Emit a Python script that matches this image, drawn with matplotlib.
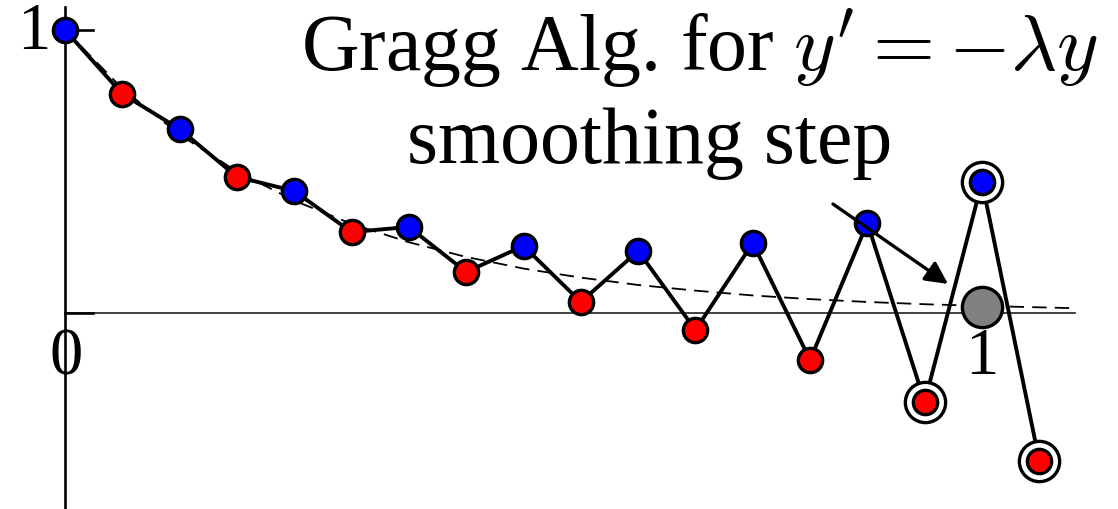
import matplotlib
matplotlib.use("Agg")
import matplotlib.pyplot as plt

plt.rcParams["font.family"] = ["Liberation Serif", "DejaVu Serif"]
plt.rcParams["mathtext.fontset"] = "cm"

# Gragg (explicit midpoint) approximations at x_k = k/16
step = 1.0 / 16
gragg_y = [1.000, 0.774, 0.650, 0.481, 0.431, 0.286, 0.304, 0.145, 0.237,
           0.039, 0.219, -0.060, 0.247, -0.166, 0.318, -0.314, 0.463, -0.523]
# the last three values enter the smoothing step
ringed = [15, 16, 17]
smoothed_x = 1.0
smoothed_y = 0.021

# exact solution sampled on the grid, plus the right end at x = 1.1
exact_x = [k / 16 for k in range(17)] + [1.1]
exact_y = [1.000, 0.793, 0.630, 0.500, 0.397, 0.315, 0.250, 0.198, 0.157,
           0.125, 0.099, 0.079, 0.062, 0.049, 0.039, 0.031, 0.025, 0.017]

title_line1 = r"Gragg Alg. for $y' = -\lambda y$"
title_line2 = "smoothing step"

xs = [k * step for k in range(len(gragg_y))]

fig = plt.figure(figsize=(11.18, 5.10), dpi=100)
ax = fig.add_axes([0, 0, 1, 1])
ax.set_xlim(-0.0709, 1.1483)
ax.set_ylim(-0.6926, 1.1095)
ax.axis("off")

# coordinate axes
ax.plot([0, 0], [-0.693, 1.081], color="black", lw=1.9, zorder=1)
ax.plot([0, 1.101], [0, 0], color="#222222", lw=1.2, zorder=1)
ax.plot([0, 0.03], [1, 1], color="black", lw=1.9, zorder=1)
ax.plot([0, 0.03], [0, 0], color="black", lw=1.9, zorder=1)

# exact solution
ax.plot(exact_x, exact_y, color="black", lw=1.3, dashes=(8, 4.5), zorder=2)

# polygon through the Gragg values
ax.plot(xs, gragg_y, color="black", lw=2.8, zorder=3)

# rings around the values used for smoothing
ax.plot([xs[k] for k in ringed], [gragg_y[k] for k in ringed], ls="none",
        marker="o", ms=29, mfc="white", mec="black", mew=2.4, zorder=4)

# even steps blue, odd steps red
ax.plot(xs[0::2], gragg_y[0::2], ls="none", marker="o", ms=17.5,
        mfc="#0000ff", mec="black", mew=2.4, zorder=5)
ax.plot(xs[1::2], gragg_y[1::2], ls="none", marker="o", ms=17.5,
        mfc="#ff0000", mec="black", mew=2.4, zorder=5)

# smoothed value
ax.plot([smoothed_x], [smoothed_y], ls="none", marker="o", ms=29,
        mfc="#808080", mec="black", mew=2.4, zorder=5)

# tick labels
ax.text(-0.034, 0.995, "1", fontsize=48, ha="center", va="center")
ax.text(0.001, -0.155, "0", fontsize=48, ha="center", va="center")
ax.text(1.0, -0.155, "1", fontsize=48, ha="center", va="center")

# annotation
ax.text(0.6925, 0.858, title_line1, fontsize=57.5, ha="center", va="baseline")
ax.text(0.637, 0.533, title_line2, fontsize=57.5, ha="center", va="baseline")
ax.annotate("", xy=(0.963, 0.1025), xytext=(0.8375, 0.385),
            arrowprops=dict(arrowstyle="-|>", lw=2.4, color="black",
                            mutation_scale=34, shrinkA=0, shrinkB=0),
            zorder=6)

fig.savefig("out.png", dpi=100)
